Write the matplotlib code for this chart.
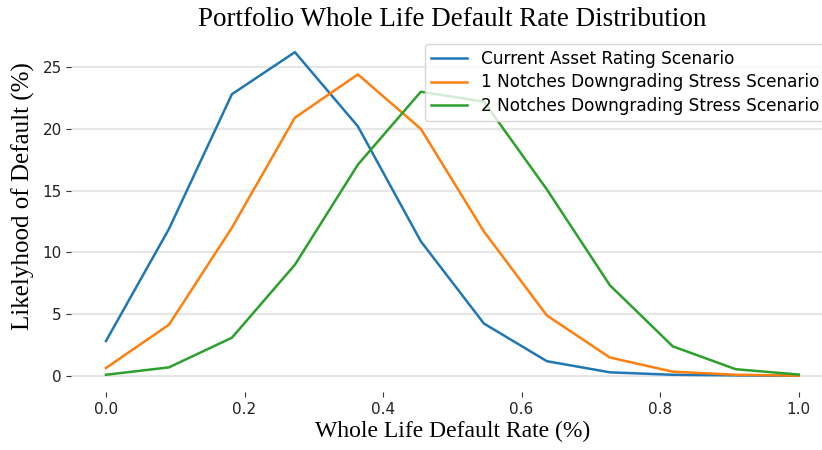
import matplotlib
matplotlib.use("Agg")
import matplotlib.pyplot as plt

x_rates = [0.0, 0.0909, 0.1818, 0.2727, 0.3636, 0.4545, 0.5455, 0.6364, 0.7273, 0.8182, 0.9091, 1.0]
current = [2.83, 11.9, 22.8, 26.2, 20.2, 10.9, 4.25, 1.2, 0.3, 0.1, 0.05, 0.02]
notch1 = [0.65, 4.15, 12.0, 20.9, 24.4, 20.0, 11.7, 4.9, 1.5, 0.35, 0.1, 0.03]
notch2 = [0.1, 0.7, 3.1, 9.0, 17.1, 23.0, 22.2, 15.1, 7.35, 2.4, 0.55, 0.12]
labels = ["Current Asset Rating Scenario",
          "1 Notches Downgrading Stress Scenario",
          "2 Notches Downgrading Stress Scenario"]

fig = plt.figure(figsize=(8.22, 4.5), dpi=100)
ax = fig.add_axes([0.0868, 0.129, 0.927, 0.791])
for ys, lab, c in zip([current, notch1, notch2], labels, ["#1f77b4", "#ff7f0e", "#2ca02c"]):
    ax.plot(x_rates, ys, color=c, lw=1.8, label=lab)

for s in ax.spines.values():
    s.set_visible(False)
ax.grid(axis="y", color="#e6e6e6", lw=1.5)
ax.set_axisbelow(True)
ax.tick_params(axis="both", labelsize=11, color="#333333", labelcolor="#222222")
ax.set_title("Portfolio Whole Life Default Rate Distribution", family="Liberation Serif", fontsize=19.5, pad=7)
ax.set_xlabel("Whole Life Default Rate (%)", family="Liberation Serif", fontsize=17, labelpad=3)
ax.set_ylabel("Likelyhood of Default (%)", family="Liberation Serif", fontsize=18)
ax.yaxis.set_label_coords(-0.048, 0.55)
ax.legend(loc="upper right", fontsize=12.2, framealpha=0.8, borderaxespad=0.45,
          labelspacing=0.3, handlelength=2.1)
fig.savefig("out.png", dpi=100)
